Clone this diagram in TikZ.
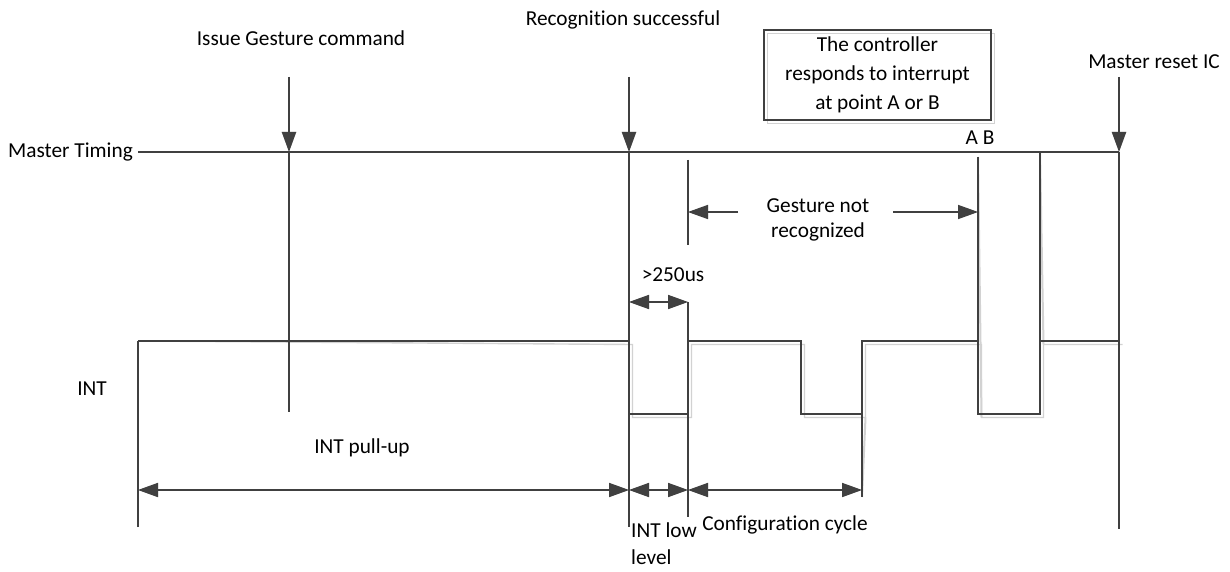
\documentclass[tikz,border=0pt]{standalone}
\usepackage{fontspec}
\setmainfont{Carlito}[Ligatures=NoCommon]
\usetikzlibrary{arrows.meta}
\definecolor{ink}{HTML}{404040}
\definecolor{shade}{HTML}{D2D2D2}
\tikzset{
  lbl/.style={font=\fontsize{21.3}{29}\selectfont, inner sep=0pt, text=black},
  wire/.style={line width=1.4pt},
  edge/.style={line width=2pt},
  tip/.style={-{Triangle[length=20pt,width=14pt]}},
  both/.style={{Triangle[length=20pt,width=14pt]}-{Triangle[length=20pt,width=14pt]}, line width=1.6pt},
}
% all lines of the timing chart, drawn in the current colour
\newcommand\timingwires{%
  % master timing line
  \draw[wire] (mtL) -- (mtR);
  % event markers
  \draw[edge,tip] (c1top) -- (c1mt);
  \draw[edge] (c1mt) -- (c1end);
  \draw[edge,tip] (c2top) -- (c2mt);
  \draw[edge] (c2mt) -- (c2end);
  \draw[edge,tip] (c3top) -- (c3mt);
  \draw[edge] (c3mt) -- (c3end);
  % end of low pulse, points A and B
  \draw[edge] (t1a) -- (t1b);
  \draw[edge] (t1c) -- (t1d);
  \draw[edge] (pA) -- (978,414);
  \draw[edge] (pB) -- (1040,341);
  % INT waveform
  \draw[edge] (iL) -- (iTop);
  \draw[wire] (iTop) -- (629,341) -- (629,414) -- (688,414) -- (688,341)
     -- (801,341) -- (801,414) -- (862,414) -- (862,341) -- (978,341)
     -- (978,414) -- (1040,414) -- (1040,341) -- (1119,341);
  \draw[edge] (862,414) -- (cfgEnd);
  % dimension arrows
  \draw[both] (dL) -- (d1);
  \draw[both] (d1) -- (d2);
  \draw[both] (d2) -- (d3);
  \draw[both] (w1) -- (w2);
  \draw[wire,tip] (g1) -- (g0);
  \draw[wire,tip] (g2) -- (g3);
  % note box outline
  \draw[line width=1.4pt] (764,30) rectangle (991,120);
}
\begin{document}
\begin{tikzpicture}[x=1pt,y=-1pt]
\useasboundingbox (0,0) rectangle (1230,572);
% key points
\coordinate (mtL) at (138,152);
\coordinate (mtR) at (1119,152);
\coordinate (c1top) at (289,77);
\coordinate (c1mt) at (289,152);
\coordinate (c1end) at (289,412);
\coordinate (c2top) at (629,77);
\coordinate (c2mt) at (629,152);
\coordinate (c2end) at (629,527);
\coordinate (c3top) at (1119,77);
\coordinate (c3mt) at (1119,152);
\coordinate (c3end) at (1119,529);
\coordinate (t1a) at (688,160);
\coordinate (t1b) at (688,245);
\coordinate (t1c) at (688,302);
\coordinate (t1d) at (688,517);
\coordinate (pA) at (978,157);
\coordinate (pB) at (1040,152);
\coordinate (iL) at (138,527);
\coordinate (iTop) at (138,341);
\coordinate (cfgEnd) at (862,497);
\coordinate (dL) at (138,490);
\coordinate (d1) at (629,490);
\coordinate (d2) at (688,490);
\coordinate (d3) at (862,490);
\coordinate (w1) at (629,302);
\coordinate (w2) at (688,302);
\coordinate (g0) at (688,212);
\coordinate (g1) at (738,212);
\coordinate (g2) at (893,212);
\coordinate (g3) at (978,212);

% soft shadow pass
\begin{scope}[shift={(3.5,3.5)}, color=shade]
  \timingwires
\end{scope}
% main pass
\begin{scope}[color=ink]
  \timingwires
\end{scope}

% labels
\node[lbl, anchor=east] (mtlabel) at (133,152) {Master Timing};
\node[lbl] (issue) at (301,38) {Issue Gesture command};
\node[lbl] (recog) at (623,20) {Recognition successful};
\node[lbl, align=center] (note) at (877.5,75) {The controller\\responds to interrupt\\at point A or B};
\node[lbl] (reset) at (1154,62) {Master reset IC};
\node[lbl] (ab) at (980,138) {A B};
\node[lbl, align=center, font=\fontsize{21.3}{25}\selectfont] (notrec) at (818,220) {Gesture not\\recognized};
\node[lbl] (us) at (673,275) {>250us};
\node[lbl] (int) at (92,389) {INT};
\node[lbl] (pull) at (362,448) {INT pull-up};
\node[lbl, align=left, anchor=north west, font=\fontsize{21.3}{27}\selectfont] (low) at (631,523) {INT low\\level};
\node[lbl] (cfg) at (785,525) {Configuration cycle};
\end{tikzpicture}
\end{document}
